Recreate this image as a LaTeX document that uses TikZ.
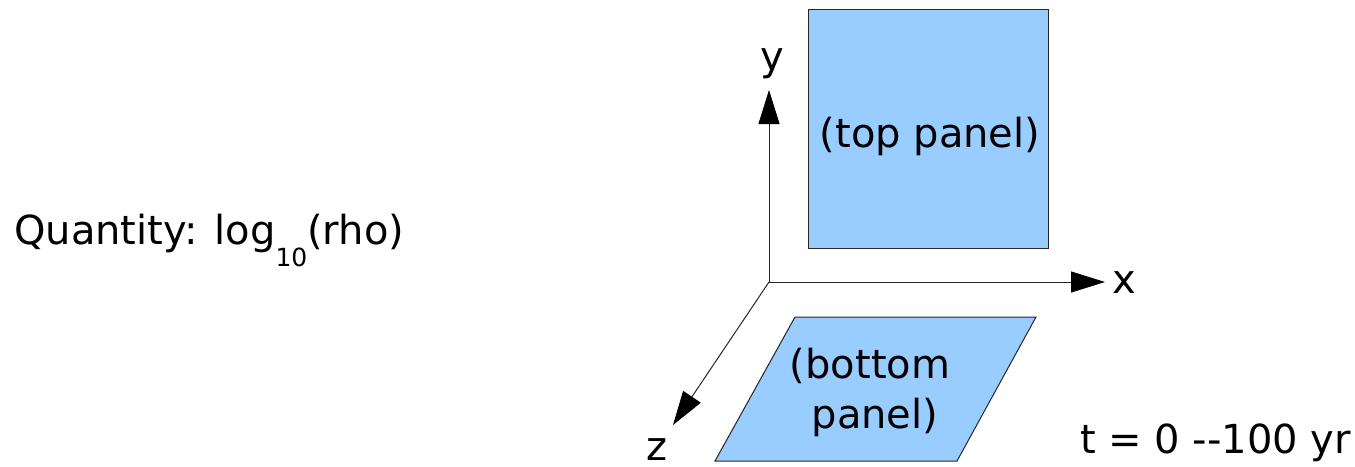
\documentclass[tikz,border=0pt]{standalone}
\usepackage{fontspec}
\setmainfont{DejaVu Sans}
\usetikzlibrary{arrows.meta}
\definecolor{panelblue}{HTML}{99CCFF}
\tikzset{
  axis/.style={line width=1pt, draw=black!85, -{Triangle[length=34pt,width=21pt,color=black,fill=black]}},
  panel/.style={fill=panelblue, draw=black!85, line width=1pt},
  lbl/.style={inner sep=0pt, font=\fontsize{40}{50}\selectfont},
}
\begin{document}
\begin{tikzpicture}[x=1pt,y=-1pt]
\useasboundingbox (0,0) rectangle (1355,466);
% panels
\node[panel, minimum width=240pt, minimum height=239pt, inner sep=0pt] (top) at (928,128.5) {};
\node[lbl, anchor=base] (toptxt) at (930,147) {(top panel)};
\coordinate (bl) at (715,461);
\coordinate (br) at (957,461);
\coordinate (tr) at (1036,317);
\coordinate (tl) at (795,317);
\draw[panel] (bl) -- (br) -- (tr) -- (tl) -- cycle;
\node[lbl, anchor=base] (bottxt1) at (870,378) {(bottom};
\node[lbl, anchor=base] (bottxt2) at (875,428) {panel)};
% axes
\coordinate (o) at (769,282);
\coordinate (ytip) at (769,90);
\coordinate (xtip) at (1105,282);
\coordinate (ztip) at (673,425);
\draw[axis] (o) -- (ytip);
\draw[axis] (o) -- (xtip);
\draw[axis] (o) -- (ztip);
\node[lbl] (ylab) at (772,64) {y};
\node[lbl] (xlab) at (1124,283) {x};
\node[lbl] (zlab) at (657,450) {z};
% texts
\node[lbl, anchor=base west] (qty) at (14,244) {Quantity: log\raisebox{-22pt}{\fontsize{25}{25}\selectfont 10}(rho)};
\node[lbl, anchor=base west] (time) at (1080,453) {t = 0 -{}-100 yr};
\end{tikzpicture}
\end{document}
